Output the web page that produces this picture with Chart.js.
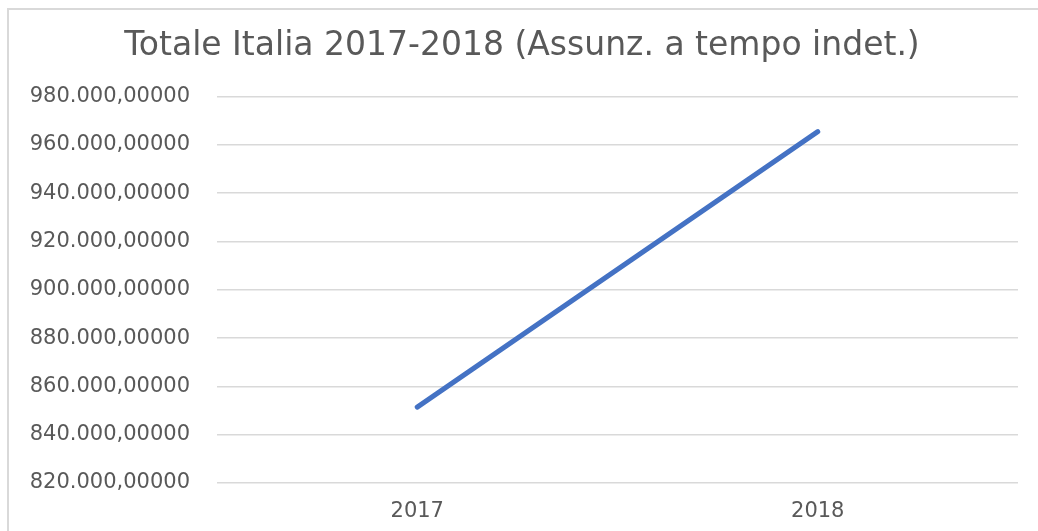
<!DOCTYPE html>
<html>
<head>
<meta charset="utf-8">
<script src="https://cdn.jsdelivr.net/npm/chart.js@4"></script>
<style>
  body { margin: 0; background: #fff; overflow: hidden; }
</style>
</head>
<body>
<canvas id="grafico" width="1038" height="531"></canvas>
<script>
// dati
const anni = ['2017', '2018'];
const assunzioni = [851400, 965500];
const titolo = 'Totale Italia 2017-2018 (Assunz. a tempo indet.)';
const asseMin = 820000;
const asseMax = 980000;
const assePasso = 20000;

function formatta(v) {
    // 980000 -> "980.000,00000"
    let s = Math.round(v).toString();
    s = s.replace(/\B(?=(\d{3})+(?!\d))/g, '.');
    return s + ',00000';
}

const grigio = '#595959';
const font = 'DejaVu Sans';

// cornice grigia in alto e a sinistra (il resto è tagliato nell'immagine)
const cornice = {
    id: 'cornice',
    beforeDraw(chart) {
        let c = chart.ctx;
        c.save();
        c.strokeStyle = '#d9d9d9';
        c.lineWidth = 2;
        c.beginPath();
        c.moveTo(8, chart.height);
        c.lineTo(8, 9);
        c.lineTo(chart.width, 9);
        c.stroke();
        c.restore();
    }
};

let ctx = document.getElementById('grafico').getContext('2d');
let grafico = new Chart(ctx, {
    type: 'line',
    data: {
        labels: anni,
        datasets: [{
            label: 'Totale',
            data: assunzioni,
            borderColor: '#4472c4',
            borderWidth: 5,
            borderCapStyle: 'round',
            pointRadius: 0,
            tension: 0,
            fill: false
        }]
    },
    options: {
        responsive: false,
        animation: false,
        layout: { padding: { left: 26, right: 20, top: 0, bottom: 9 } },
        plugins: {
            legend: { display: false },
            tooltip: { enabled: false },
            title: {
                display: true,
                text: titolo,
                color: grigio,
                font: { family: font, size: 33, weight: 'normal' },
                padding: { top: 27, bottom: 30 }
            }
        },
        scales: {
            x: {
                offset: true,
                grid: { display: false },
                border: { display: false },
                ticks: { color: grigio, font: { family: font, size: 21 }, padding: 8 },
                afterFit: s => { s.height = 39; }
            },
            y: {
                min: asseMin,
                max: asseMax,
                grid: { color: '#d9d9d9', lineWidth: 1.5, drawTicks: false },
                border: { display: false },
                ticks: {
                    stepSize: assePasso,
                    color: grigio,
                    font: { family: font, size: 21 },
                    padding: 27,
                    callback: v => formatta(v)
                },
                afterFit: s => { s.width = 191; }
            }
        }
    },
    plugins: [cornice]
});
</script>
</body>
</html>
